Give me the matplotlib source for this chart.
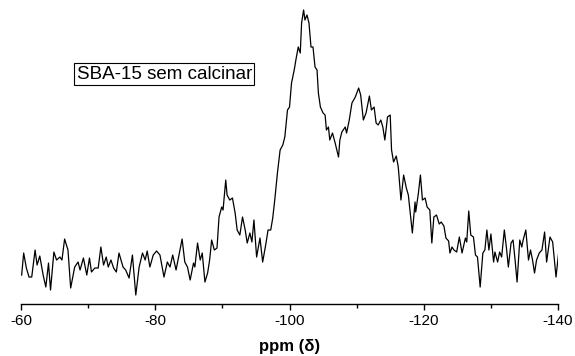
import numpy as np
import matplotlib
matplotlib.use("Agg")
import matplotlib.pyplot as plt

plt.rcParams['font.family'] = ['Liberation Sans', 'DejaVu Sans']
plt.rcParams['axes.unicode_minus'] = False

# chemical shift (ppm) and intensity (arbitrary units)
ppm = [-60.1, -60.4, -60.8, -61.2, -61.6, -62.1, -62.4, -62.8, -63.3, -63.7,
       -64.1, -64.4, -64.9, -65.3, -65.8, -66.1, -66.5, -67.0, -67.4, -68.0,
       -68.5, -68.8, -69.3, -69.8, -70.2, -70.5, -71.0, -71.5, -71.9, -72.3,
       -72.7, -73.0, -73.4, -73.8, -74.2, -74.6, -75.2, -75.6, -76.1, -76.6,
       -77.1, -77.6, -78.1, -78.5, -78.8, -79.2, -79.7, -80.2, -80.7, -81.3,
       -81.8, -82.2, -82.6, -83.1, -83.6, -84.0, -84.4, -84.8,
       -85.2, -85.7, -85.9, -86.3, -86.7, -87.0, -87.4, -87.8, -88.1, -88.4,
       -88.8, -89.2, -89.5, -89.9, -90.1, -90.5, -90.7, -91.1, -91.5, -91.9,
       -92.2, -92.6, -93.0, -93.4, -93.7, -94.1, -94.4, -94.7, -95.1, -95.6,
       -96.0, -96.5, -96.8, -97.2, -97.5, -97.8, -98.2, -98.6, -99.0, -99.3,
       -99.7, -100.0, -100.3, -100.7, -101.0, -101.3, -101.6, -101.8, -102.1, -102.3,
       -102.6, -102.9, -103.2, -103.5, -103.8, -104.1, -104.3, -104.6, -105.0, -105.3,
       -105.5, -105.8, -106.0, -106.4, -106.8, -107.3, -107.5, -107.8, -108.3, -108.5,
       -108.9, -109.3, -109.8, -110.3, -110.6, -111.0, -111.4, -111.9, -112.2, -112.6,
       -112.9, -113.2, -113.6, -113.9, -114.2, -114.6, -115.0,
       -115.2, -115.5, -115.9, -116.2, -116.6, -117.0, -117.4, -117.7, -118.3, -118.7,
       -118.8, -119.2, -119.5, -119.8, -120.2, -120.5, -120.9, -121.2, -121.5, -121.9,
       -122.3, -122.6, -123.0, -123.3, -123.7, -123.9, -124.2, -124.5, -124.9, -125.3,
       -125.7, -126.2, -126.4, -126.7, -127.0, -127.4, -127.7, -128.0, -128.4, -128.8,
       -129.1, -129.4, -129.7, -130.0, -130.4, -130.6, -131.0, -131.3, -131.6, -132.0,
       -132.3, -132.6, -133.0, -133.3, -133.6, -133.9, -134.3, -134.6, -134.8, -135.2,
       -135.6, -135.9, -136.2, -136.5, -136.8, -137.2, -137.6, -138.0, -138.3, -138.8,
       -139.2, -139.7, -140.1]

intensity = [25, 47, 32, 23, 23, 50, 35, 44, 25, 13,
             37, 10, 48, 40, 43, 40, 61, 50, 12, 33,
             38, 30, 42, 25, 42, 28, 32, 32, 53, 35,
             43, 33, 40, 32, 28, 47, 33, 30, 22, 45,
             5, 33, 47, 40, 49, 33, 45, 49, 45, 23,
             38, 33, 45, 30, 47, 61, 38, 33,
             20, 37, 33, 57, 40, 47, 18, 27, 40, 60,
             50, 52, 83, 93, 90, 120, 105, 100, 102, 87,
             70, 65, 83, 70, 57, 67, 58, 80, 43, 62,
             38, 57, 70, 70, 82, 100, 127, 150, 155, 163,
             190, 193, 217, 230, 242, 253, 247, 277, 290, 280,
             285, 277, 253, 253, 233, 230, 207, 193, 187, 185,
             170, 173, 160, 167, 157, 143, 160, 168, 173, 167,
             180, 197, 203, 212, 205, 180, 187, 204, 190, 193,
             177, 175, 180, 173, 160, 183, 185,
             150, 138, 144, 133, 100, 125, 112, 105, 67, 98,
             88, 107, 125, 100, 102, 93, 90, 57, 83, 85,
             76, 78, 74, 62, 59, 47, 53, 50, 48, 63,
             47, 62, 58, 89, 65, 63, 45, 43, 13, 47,
             50, 70, 50, 66, 38, 48, 38, 48, 43, 70,
             53, 33, 57, 60, 40, 18, 60, 53, 60, 70,
             40, 50, 40, 27, 40, 47, 50, 68, 38, 63,
             58, 23, 48]

sample_label = "SBA-15 sem calcinar"

fig = plt.figure(figsize=(5.75, 3.56), dpi=100)
ax = fig.add_axes([0.0365, 0.146, 0.934, 0.854])
ax.plot(ppm, intensity, color="black", lw=0.9)

ax.set_xlim(-60, -140)
ax.set_ylim(-4, 300)
ax.set_xticks([-60, -80, -100, -120, -140])
ax.set_xticks([-70, -90, -110, -130], minor=True)
ax.tick_params(axis="x", which="major", length=4, width=1, labelsize=11, pad=3)
ax.tick_params(axis="x", which="minor", length=3, width=1)
ax.set_yticks([])
for side in ["top", "left", "right"]:
    ax.spines[side].set_visible(False)
ax.spines["bottom"].set_linewidth(1)
ax.set_xlabel("ppm (\u03b4)", fontsize=12, fontweight="bold", labelpad=8)

ax.text(-68.3, 226, sample_label, fontsize=13.5, va="center", ha="left",
        bbox=dict(boxstyle="square,pad=0.12", facecolor="white", edgecolor="black", lw=0.8))

fig.savefig("out.png", dpi=100)
